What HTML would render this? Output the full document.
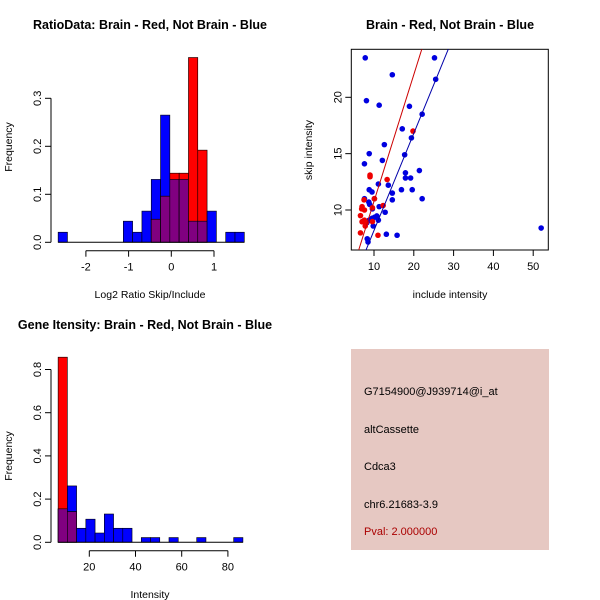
<!DOCTYPE html>
<html><head><meta charset="utf-8"><style>
html,body{margin:0;padding:0;background:#fff;}
svg{display:block;font-family:"Liberation Sans",Arial,sans-serif;}
</style></head><body>
<svg id="c" width="600" height="600" viewBox="0 0 600 600">
<rect width="600" height="600" fill="#fff"/>
<g id="tl"></g>
<g id="tr"></g>
<g id="bl"></g>
<g id="br">
<rect x="351" y="349" width="198" height="201" fill="#e6c8c2"/>
<text x="364" y="395" font-size="11" fill="#000">G7154900@J939714@i_at</text>
<text x="364" y="433" font-size="11" fill="#000">altCassette</text>
<text x="364" y="470" font-size="11" fill="#000">Cdca3</text>
<text x="364" y="508" font-size="11" fill="#000">chr6.21683-3.9</text>
<text x="364" y="535" font-size="11" fill="#aa0000">Pval: 2.000000</text>
</g>
</svg>
<script>
// ---- Ratio histogram data ----
const ratioBinStart = -2.65;
const ratioBinWidth = 0.218;
const ratioBlue = [0.021,0,0,0,0,0,0,0.044,0.021,0.065,0.131,0.265,0.131,0.131,0.044,0.044,0.065,0,0.021,0.021];
const ratioRed  = [0,0,0,0,0,0,0,0,0,0,0.048,0.096,0.144,0.144,0.385,0.192,0,0,0,0];
const ratioXTicks = [-2,-1,0,1];
const ratioYTicks = [0,0.1,0.2,0.3];
// ---- Intensity histogram data ----
const intBinStart = 6.5;
const intBinWidth = 4;
const intBlue = [0.155,0.261,0.065,0.107,0.043,0.131,0.065,0.065,0,0.022,0.022,0,0.022,0,0,0.022,0,0,0,0.022];
const intRed  = [0.857,0.142,0,0,0,0,0,0,0,0,0,0,0,0,0,0,0,0,0,0];
const intXTicks = [20,40,60,80];
const intYTicks = [0,0.2,0.4,0.6,0.8];
// ---- Scatter data ----
const blueX = [7.8,25.2,14.6,25.5,8.1,11.3,18.9,22.1,17.1,19.4,12.6,17.7,8.8,12.1,7.6,21.4,17.9,17.9,19.2,13.6,11.1,16.9,19.6,8.8,9.5,14.6,7.6,22.1,10.1,14.6,8.7,8.9,11.3,9.6,12.8,10.7,10.1,9.5,11.1,8.8,8.2,9.8,13.1,15.8,8.3,8.5,52.0];
const blueY = [23.5,23.5,22.0,21.6,19.7,19.3,19.2,18.5,17.2,16.4,15.8,14.9,15.0,14.4,14.1,13.5,13.3,12.84,12.84,12.2,12.3,11.8,11.8,11.8,11.6,11.5,11.0,11.0,11.0,10.9,10.7,10.5,10.3,10.1,9.8,9.47,9.35,9.26,9.1,9.1,8.87,8.58,7.85,7.76,7.45,7.16,8.4];
const redX = [19.8,9.0,9.0,13.3,10.1,7.5,12.3,7.0,6.9,7.6,6.6,7.0,7.6,8.0,7.8,9.6,6.6,11.0,9.6];
const redY = [17.0,13.1,12.95,12.7,11.0,10.9,10.4,10.3,10.1,10.0,9.5,8.96,9.1,8.87,8.58,8.97,7.97,7.76,10.2];
const redFit = [-0.47,1.124];
const blueFit = [-0.44,0.862];
const scXTicks = [10,20,30,40,50];
const scYTicks = [10,15,20];

const NS="http://www.w3.org/2000/svg";
function mk(parent,tag,attrs,txt){const e=document.createElementNS(NS,tag);for(const k in attrs)e.setAttribute(k,attrs[k]);if(txt!==undefined)e.textContent=txt;parent.appendChild(e);return e;}

function histogram(g,o){
  const sx=v=>o.x0px+(v-o.x0)*o.pxPerX;
  const sy=v=>o.base-v*o.pxPerY;
  const n=o.blue.length;
  for(let i=0;i<n;i++){
    const l=sx(o.start+i*o.width), r=sx(o.start+(i+1)*o.width);
    const b=o.blue[i], rd=o.red[i], m=Math.min(b,rd);
    if(b>0){const e=mk(g,'rect',{x:l,y:sy(b),width:r-l,height:sy(0)-sy(b),fill:'#0000ff',stroke:'#000','stroke-width':0.6});
      
      }
    if(rd>0){const e=mk(g,'rect',{x:l,y:sy(rd),width:r-l,height:sy(0)-sy(rd),fill:'#ff0000',stroke:'#000','stroke-width':0.6});
      
      }
    if(m>0){const e=mk(g,'rect',{x:l,y:sy(m),width:r-l,height:sy(0)-sy(m),fill:'#800080',stroke:'#000','stroke-width':0.6});
      
      }
  }
  const first=sx(o.start), last=sx(o.start+n*o.width);
  mk(g,'line',{x1:first,x2:last,y1:o.base,y2:o.base,stroke:'#000','stroke-width':1});
  const ya=mk(g,'g',{});
  
  
  mk(ya,'line',{x1:o.yAxisX,x2:o.yAxisX,y1:sy(o.yTicks[0]),y2:sy(o.yTicks[o.yTicks.length-1]),stroke:'#000'});
  o.yTicks.forEach(t=>{
    mk(ya,'line',{x1:o.yAxisX-6,x2:o.yAxisX,y1:sy(t),y2:sy(t),stroke:'#000'});
    const tx=mk(ya,'text',{x:o.yAxisX-10,y:sy(t),'font-size':11,'text-anchor':'middle',transform:`rotate(-90 ${o.yAxisX-10} ${sy(t)})`},t.toFixed(1));
    
    
  });
  const xa=mk(g,'g',{});
  
  
  const xt=o.xTicks;
  mk(xa,'line',{x1:sx(xt[0]),x2:sx(xt[xt.length-1]),y1:o.xAxisY,y2:o.xAxisY,stroke:'#000'});
  xt.forEach(t=>{
    mk(xa,'line',{x1:sx(t),x2:sx(t),y1:o.xAxisY,y2:o.xAxisY+6,stroke:'#000'});
    const tx=mk(xa,'text',{x:sx(t),y:o.xAxisY+20,'font-size':11,'text-anchor':'middle'},String(t));
    
    
  });
}

histogram(document.getElementById('tl'),{start:ratioBinStart,width:ratioBinWidth,blue:ratioBlue,red:ratioRed,
  x0:0,x0px:171.3,pxPerX:42.7,base:242.3,pxPerY:480,yAxisX:51,xAxisY:250.7,xTicks:ratioXTicks,yTicks:ratioYTicks});
histogram(document.getElementById('bl'),{start:intBinStart,width:intBinWidth,blue:intBlue,red:intRed,
  x0:20,x0px:89.3,pxPerX:2.31,base:542.3,pxPerY:216,yAxisX:51,xAxisY:550.7,xTicks:intXTicks,yTicks:intYTicks});

(function(){
  const g=document.getElementById('tr');
  const L=351.3,R=548.3,T=49.3,B=250;
  const sx=v=>374+(v-10)*3.98;
  const sy=v=>210-(v-10)*11.27;
  mk(g,'defs',{}).innerHTML='<clipPath id="sc"><rect x="351.3" y="49.3" width="197" height="200.7"/></clipPath>';
  mk(g,'rect',{x:L,y:T,width:R-L,height:B-T,fill:'none',stroke:'#000'});
  const pts=mk(g,'g',{'clip-path':'url(#sc)'});
  blueX.forEach((x,i)=>{const c=mk(pts,'circle',{cx:sx(x),cy:sy(blueY[i]),r:2.8,fill:'#0000e0'});
    
    });
  redX.forEach((x,i)=>{const c=mk(pts,'circle',{cx:sx(x),cy:sy(redY[i]),r:2.8,fill:'#ee0000'});
    
    });
  const lx=[0,60];
  const rl=mk(pts,'line',{x1:sx(lx[0]),y1:sy(redFit[0]+redFit[1]*lx[0]),x2:sx(lx[1]),y2:sy(redFit[0]+redFit[1]*lx[1]),stroke:'#cc0000','stroke-width':1});
  
  
  const bl=mk(pts,'line',{x1:sx(lx[0]),y1:sy(blueFit[0]+blueFit[1]*lx[0]),x2:sx(lx[1]),y2:sy(blueFit[0]+blueFit[1]*lx[1]),stroke:'#0000aa','stroke-width':1});
  
  
  scXTicks.forEach(t=>{
    mk(g,'line',{x1:sx(t),x2:sx(t),y1:B,y2:B+6,stroke:'#000'});
    const tx=mk(g,'text',{x:sx(t),y:B+20,'font-size':11,'text-anchor':'middle'},String(t));
    
    
  });
  scYTicks.forEach(t=>{
    mk(g,'line',{x1:L-6,x2:L,y1:sy(t),y2:sy(t),stroke:'#000'});
    const tx=mk(g,'text',{x:L-10,y:sy(t),'font-size':11,'text-anchor':'middle',transform:`rotate(-90 ${L-10} ${sy(t)})`},String(t));
    
    
  });
})();

const svg=document.getElementById('c');
function lab(x,y,s,txt,name,bold,rot){
  const a={x:x,y:y,'font-size':s,'text-anchor':'middle'};
  if(bold)a['font-weight']='bold';
  if(rot)a.transform=`rotate(-90 ${x} ${y})`;
  const t=mk(svg,'text',a,txt);
  
  
}
lab(150,29,12.5,'RatioData: Brain - Red, Not Brain - Blue','ratio-title',true);
lab(450,29,12.5,'Brain - Red, Not Brain - Blue','scatter-title',true);
lab(145,329,12.5,'Gene Itensity: Brain - Red, Not Brain - Blue','intensity-title',true);
lab(150,298,10.5,'Log2 Ratio Skip/Include','ratio-x-title');
lab(450,298,10.5,'include intensity','scatter-x-title');
lab(150,598,10.5,'Intensity','intensity-x-title');
lab(12,147,10.5,'Frequency','ratio-y-title',false,true);
lab(12,456,10.5,'Frequency','intensity-y-title',false,true);
lab(312,150,10.5,'skip intensity','scatter-y-title',false,true);
</script>
</body></html>
